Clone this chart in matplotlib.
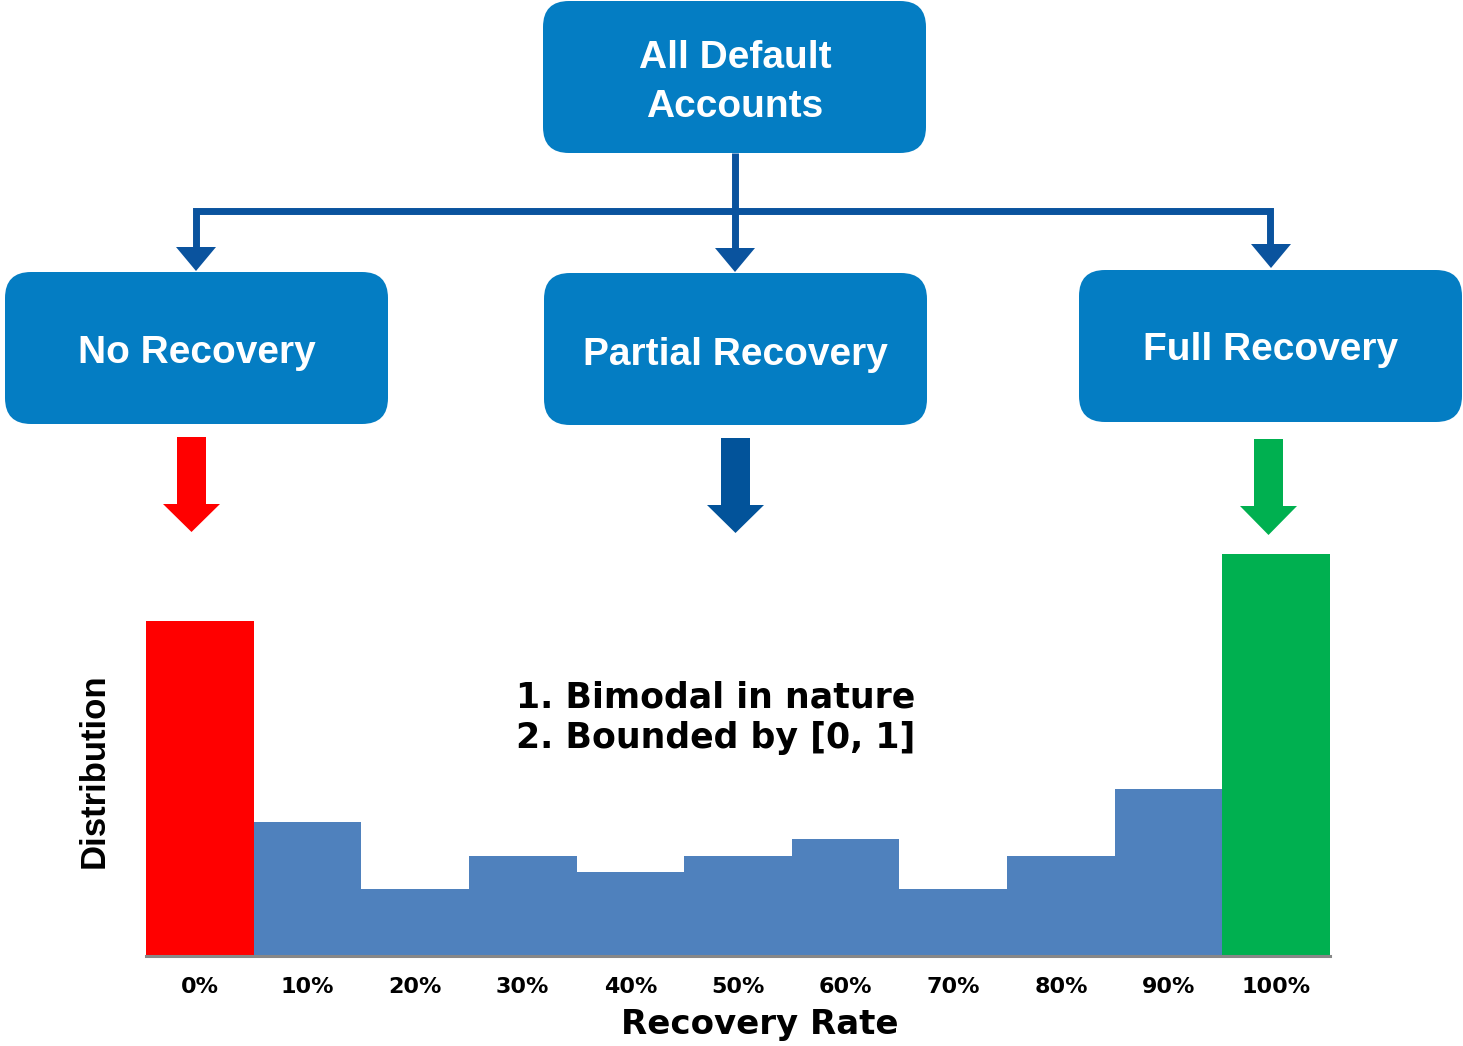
import matplotlib
matplotlib.use("Agg")
import matplotlib.pyplot as plt
from matplotlib.patches import FancyBboxPatch, Polygon
from matplotlib.lines import Line2D

# recovery rate histogram (arbitrary units)
rate_labels = ["0%", "10%", "20%", "30%", "40%", "50%", "60%", "70%", "80%", "90%", "100%"]
share = [10, 4, 2, 3, 2.5, 3, 3.5, 2, 3, 5, 12]
bar_colors = ["#FF0000"] + ["#4F81BD"] * 9 + ["#00B050"]

box_titles = ["All Default\nAccounts", "No Recovery", "Partial Recovery", "Full Recovery"]

BOX_BLUE = "#047DC3"
LINE_BLUE = "#0A539E"
W, H = 1463, 1046

fig = plt.figure(figsize=(W / 100, H / 100), dpi=100)
fig.patch.set_facecolor("white")

# histogram
ax = fig.add_axes([146 / W, 90 / H, 1184 / W, 402 / H])
x = list(range(len(share)))
ax.bar(x, share, width=1.0, color=bar_colors, linewidth=0, zorder=2)
ax.set_xlim(-0.5, 10.5)
ax.set_ylim(0, 12)
ax.set_yticks([])
ax.set_xticks(x)
ax.set_xticklabels(rate_labels, fontsize=16, fontweight="bold", family="DejaVu Sans")
ax.tick_params(axis="x", length=0, pad=15)
for s in ["top", "right", "left"]:
    ax.spines[s].set_visible(False)
ax.spines["bottom"].set_color("#888888")
ax.spines["bottom"].set_linewidth(2.2)
ax.spines["bottom"].set_zorder(3)
ax.set_facecolor("none")

# flowchart layer in pixel coordinates
ov = fig.add_axes([0, 0, 1, 1], zorder=5)
ov.set_xlim(0, W)
ov.set_ylim(H, 0)
ov.axis("off")
ov.patch.set_alpha(0)

boxes = [(543, 1, 383, 152), (5, 272, 383, 152), (544, 273, 383, 152), (1079, 270, 383, 152)]
for (bx, by, bw, bh) in boxes:
    ov.add_patch(FancyBboxPatch((bx, by), bw, bh,
                                boxstyle="round,pad=0,rounding_size=26",
                                facecolor=BOX_BLUE, edgecolor="none"))

txt = dict(color="white", fontsize=28, fontweight="bold", family="Liberation Sans",
           ha="center", va="baseline")
ov.text(735, 68, "All Default", **txt)
ov.text(735, 117, "Accounts", **txt)
ov.text(197, 363, box_titles[1], **txt)
ov.text(735, 365, box_titles[2], **txt)
ov.text(1271, 360, box_titles[3], **txt)

# connectors
ov.add_line(Line2D([196, 196, 1270, 1270], [250, 211, 211, 248], color=LINE_BLUE,
                   linewidth=5, solid_joinstyle="miter", solid_capstyle="butt"))
ov.add_line(Line2D([735, 735], [153, 250], color=LINE_BLUE, linewidth=5,
                   solid_capstyle="butt"))
for cx, y0, tip in [(196, 247, 271), (735, 248, 272), (1271, 244, 268)]:
    ov.add_patch(Polygon([(cx - 20, y0), (cx + 20, y0), (cx, tip)], closed=True,
                         facecolor=LINE_BLUE, edgecolor="none"))

# block arrows under the boxes
def block_arrow(cx, top, head_y, tip, color):
    pts = [(cx - 14.5, top), (cx + 14.5, top), (cx + 14.5, head_y), (cx + 28.5, head_y),
           (cx, tip), (cx - 28.5, head_y), (cx - 14.5, head_y)]
    ov.add_patch(Polygon(pts, closed=True, facecolor=color, edgecolor="none"))

block_arrow(191.5, 437, 504, 532, "#FF0000")
block_arrow(735.5, 438, 505, 533, "#02539A")
block_arrow(1268.5, 439, 506, 535, "#00B050")

# notes and axis titles
note = dict(color="black", fontsize=25, fontweight="bold", family="DejaVu Sans",
            ha="left", va="baseline")
ov.text(516, 708, "1. Bimodal in nature", **note)
ov.text(516, 748, "2. Bounded by [0, 1]", **note)

ov.text(760, 1034, "Recovery Rate", color="black", fontsize=24.5, fontweight="bold",
        family="DejaVu Sans", ha="center", va="baseline")
ov.text(94, 771, "Distribution", color="black", fontsize=25, fontweight="bold",
        family=["Liberation Sans Narrow", "Liberation Sans"], rotation=90,
        ha="center", va="center")

fig.savefig("out.png", dpi=100)
